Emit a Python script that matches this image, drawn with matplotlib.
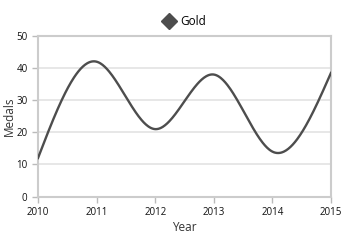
import matplotlib
matplotlib.use("Agg")
import matplotlib.pyplot as plt
import numpy as np

years = [2010, 2011, 2012, 2013, 2014, 2015]
gold = [12, 42, 21, 38, 14, 38.5]


def natural_spline(x, y, n=400):
    x = np.asarray(x, float)
    y = np.asarray(y, float)
    k = len(x)
    h = np.diff(x)
    A = np.zeros((k, k))
    b = np.zeros(k)
    A[0, 0] = A[-1, -1] = 1
    for i in range(1, k - 1):
        A[i, i - 1] = h[i - 1]
        A[i, i] = 2 * (h[i - 1] + h[i])
        A[i, i + 1] = h[i]
        b[i] = 6 * ((y[i + 1] - y[i]) / h[i] - (y[i] - y[i - 1]) / h[i - 1])
    m = np.linalg.solve(A, b)
    xs = np.linspace(x[0], x[-1], n)
    idx = np.clip(np.searchsorted(x, xs) - 1, 0, k - 2)
    x0, x1 = x[idx], x[idx + 1]
    hh = x1 - x0
    t0, t1 = x1 - xs, xs - x0
    ys = (m[idx] * t0**3 + m[idx + 1] * t1**3) / (6 * hh) \
        + (y[idx] / hh - m[idx] * hh / 6) * t0 \
        + (y[idx + 1] / hh - m[idx + 1] * hh / 6) * t1
    return xs, ys


plt.rcParams['font.family'] = ['Open Sans', 'DejaVu Sans']

fig = plt.figure(figsize=(3.5, 2.4), dpi=100)
ax = fig.add_axes([0.1086, 0.181, 0.837, 0.669])

xs, ys = natural_spline(years, gold)
ax.plot(xs, ys, color='#4d4d4d', lw=1.7, zorder=3)

ax.set_xlim(2010, 2015)
ax.set_ylim(0, 50)
ax.set_xticks(years)
ax.set_xticklabels([str(y) for y in years])
ax.set_yticks(range(0, 51, 10))
ax.yaxis.grid(True, color='#e3e3e3', lw=1.2)
ax.set_axisbelow(True)
for s in ax.spines.values():
    s.set_color('#cccccc')
    s.set_linewidth(1.5)
ax.tick_params(colors='#bbbbbb', labelcolor='#111111', labelsize=7, length=4, width=1)
ax.set_xlabel('Year', fontsize=8.5, color='#333333', labelpad=2)
ax.set_ylabel('Medals', fontsize=8.5, color='#333333', labelpad=0)

ax.plot([], [], marker='D', color='#4d4d4d', ls='none', markersize=8, label='Gold')
ax.legend(loc='lower center', bbox_to_anchor=(0.5, 1.02), frameon=False, fontsize=8.5,
          handletextpad=0.5, borderaxespad=0, handlelength=1)

fig.savefig('out.png', dpi=100)
